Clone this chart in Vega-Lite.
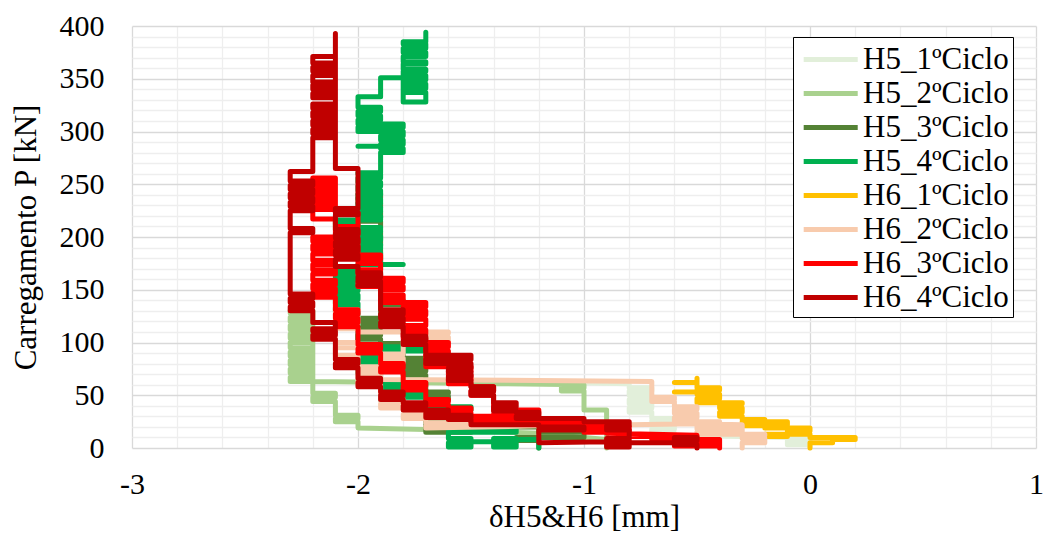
{
  "$schema": "https://vega.github.io/schema/vega-lite/v6.json",
  "width": 904,
  "height": 422,
  "autosize": {"type": "none"},
  "padding": {"left": 132, "top": 26, "right": 9, "bottom": 86},
  "background": "white",
  "config": {
    "view": {"stroke": null},
    "font": "Liberation Serif",
    "line": {"strokeWidth": 5, "strokeCap": "round", "strokeJoin": "round"},
    "axis": {
      "domain": false, "ticks": false, "tickSize": 0,
      "labelFont": "Liberation Serif", "labelFontSize": 30, "labelColor": "#000",
      "titleFont": "Liberation Serif", "titleFontSize": 31, "titleFontWeight": "normal", "titleColor": "#000",
      "gridWidth": 1.3, "labelOverlap": false, "labelFlush": false
    }
  },
  "datasets": {
    "h51": [{"x":0,"y":0},{"x":0,"y":3},{"x":-0.1,"y":3},{"x":-0.1,"y":7},{"x":0,"y":7},{"x":0,"y":10},{"x":-0.1,"y":10},{"x":-0.6,"y":12},{"x":-0.6,"y":14},{"x":-0.7,"y":14},{"x":-0.7,"y":18},{"x":-0.6,"y":18},{"x":-0.6,"y":22},{"x":-0.7,"y":22},{"x":-0.7,"y":26},{"x":-0.6,"y":26},{"x":-0.6,"y":28},{"x":-0.7,"y":28},{"x":-0.7,"y":34},{"x":-0.8,"y":34},{"x":-0.8,"y":38},{"x":-0.7,"y":38},{"x":-0.7,"y":42},{"x":-0.8,"y":42},{"x":-0.8,"y":46},{"x":-0.7,"y":46},{"x":-0.7,"y":50},{"x":-0.8,"y":50},{"x":-0.8,"y":54},{"x":-0.7,"y":54},{"x":-0.7,"y":57},{"x":-0.8,"y":57},{"x":-0.8,"y":61},{"x":-1.1,"y":62}],
    "h52": [{"x":-0.9,"y":0},{"x":-0.9,"y":36},{"x":-1.0,"y":36},{"x":-1.0,"y":54},{"x":-1.1,"y":54},{"x":-1.1,"y":57},{"x":-1.0,"y":57},{"x":-1.0,"y":60},{"x":-1.4,"y":61},{"x":-1.8,"y":62},{"x":-2.2,"y":63},{"x":-2.3,"y":63},{"x":-2.3,"y":67},{"x":-2.2,"y":67},{"x":-2.2,"y":71},{"x":-2.3,"y":71},{"x":-2.3,"y":75},{"x":-2.2,"y":75},{"x":-2.2,"y":79},{"x":-2.3,"y":79},{"x":-2.3,"y":83},{"x":-2.2,"y":83},{"x":-2.2,"y":87},{"x":-2.3,"y":87},{"x":-2.3,"y":91},{"x":-2.2,"y":91},{"x":-2.2,"y":95},{"x":-2.3,"y":95},{"x":-2.3,"y":100},{"x":-2.2,"y":100},{"x":-2.2,"y":104},{"x":-2.3,"y":104},{"x":-2.3,"y":108},{"x":-2.2,"y":108},{"x":-2.2,"y":112},{"x":-2.3,"y":112},{"x":-2.3,"y":116},{"x":-2.2,"y":116},{"x":-2.2,"y":120},{"x":-2.3,"y":120},{"x":-2.3,"y":124},{"x":-2.2,"y":124},{"x":-2.2,"y":128},{"x":-2.3,"y":128},{"x":-2.3,"y":130},{"x":-2.2,"y":130},{"x":-2.2,"y":52},{"x":-2.1,"y":52},{"x":-2.1,"y":48},{"x":-2.2,"y":48},{"x":-2.2,"y":44},{"x":-2.1,"y":44},{"x":-2.1,"y":31},{"x":-2.0,"y":31},{"x":-2.0,"y":28},{"x":-2.1,"y":28},{"x":-2.1,"y":25},{"x":-2.0,"y":25},{"x":-2.0,"y":19},{"x":-1.6,"y":17},{"x":-1.2,"y":14},{"x":-1.0,"y":10},{"x":-0.9,"y":8}],
    "h53": [{"x":-1.2,"y":0},{"x":-1.2,"y":7},{"x":-1.3,"y":7},{"x":-1.3,"y":10},{"x":-1.0,"y":10},{"x":-1.0,"y":15},{"x":-1.2,"y":15},{"x":-1.2,"y":20},{"x":-1.7,"y":20},{"x":-1.7,"y":15},{"x":-1.5,"y":15},{"x":-1.5,"y":18},{"x":-1.7,"y":18},{"x":-1.7,"y":22},{"x":-1.5,"y":22},{"x":-1.5,"y":24},{"x":-1.7,"y":24},{"x":-1.7,"y":46},{"x":-1.6,"y":46},{"x":-1.6,"y":49},{"x":-1.7,"y":49},{"x":-1.7,"y":52},{"x":-1.6,"y":52},{"x":-1.6,"y":53},{"x":-1.7,"y":53},{"x":-1.7,"y":69},{"x":-1.8,"y":69},{"x":-1.8,"y":73},{"x":-1.7,"y":73},{"x":-1.7,"y":77},{"x":-1.8,"y":77},{"x":-1.8,"y":81},{"x":-1.7,"y":81},{"x":-1.7,"y":85},{"x":-1.8,"y":85},{"x":-1.8,"y":91},{"x":-1.9,"y":91},{"x":-1.9,"y":95},{"x":-1.8,"y":95},{"x":-1.8,"y":99},{"x":-1.9,"y":99},{"x":-1.9,"y":103},{"x":-2.0,"y":103},{"x":-2.0,"y":107},{"x":-1.9,"y":107},{"x":-1.9,"y":111},{"x":-2.0,"y":111},{"x":-2.0,"y":115},{"x":-1.9,"y":115},{"x":-1.9,"y":119},{"x":-2.0,"y":119},{"x":-2.0,"y":123},{"x":-1.9,"y":123},{"x":-1.9,"y":136},{"x":-1.8,"y":136},{"x":-1.8,"y":140},{"x":-1.9,"y":140},{"x":-1.9,"y":188},{"x":-2.0,"y":188},{"x":-2.0,"y":192},{"x":-1.9,"y":192},{"x":-1.9,"y":205},{"x":-2.0,"y":205},{"x":-2.0,"y":209},{"x":-1.9,"y":209},{"x":-1.9,"y":215},{"x":-2.0,"y":215},{"x":-2.0,"y":218},{"x":-1.9,"y":218},{"x":-1.9,"y":224},{"x":-2.0,"y":224},{"x":-2.0,"y":228},{"x":-1.9,"y":228},{"x":-1.9,"y":232},{"x":-2.0,"y":232},{"x":-2.0,"y":237},{"x":-1.9,"y":237},{"x":-1.9,"y":241},{"x":-2.0,"y":241}],
    "h54": [{"x":-1.2,"y":0},{"x":-1.2,"y":8},{"x":-1.3,"y":8},{"x":-1.3,"y":1},{"x":-1.4,"y":1},{"x":-1.4,"y":5},{"x":-1.3,"y":5},{"x":-1.3,"y":9},{"x":-1.4,"y":9},{"x":-1.4,"y":6},{"x":-1.5,"y":6},{"x":-1.5,"y":1},{"x":-1.6,"y":1},{"x":-1.6,"y":5},{"x":-1.5,"y":5},{"x":-1.5,"y":9},{"x":-1.6,"y":9},{"x":-1.6,"y":15},{"x":-1.3,"y":15},{"x":-1.3,"y":18},{"x":-1.6,"y":18},{"x":-1.6,"y":36},{"x":-1.5,"y":36},{"x":-1.5,"y":39},{"x":-1.7,"y":39},{"x":-1.7,"y":48},{"x":-1.8,"y":48},{"x":-1.8,"y":52},{"x":-1.7,"y":52},{"x":-1.7,"y":54},{"x":-1.8,"y":54},{"x":-1.8,"y":46},{"x":-1.9,"y":46},{"x":-1.9,"y":50},{"x":-1.8,"y":50},{"x":-1.8,"y":55},{"x":-1.9,"y":55},{"x":-1.9,"y":59},{"x":-1.8,"y":59},{"x":-1.8,"y":63},{"x":-1.9,"y":63},{"x":-1.9,"y":71},{"x":-2.0,"y":71},{"x":-2.0,"y":75},{"x":-1.9,"y":75},{"x":-1.9,"y":79},{"x":-2.0,"y":79},{"x":-2.0,"y":83},{"x":-1.9,"y":83},{"x":-1.9,"y":87},{"x":-2.0,"y":87},{"x":-2.0,"y":90},{"x":-1.9,"y":90},{"x":-1.9,"y":92},{"x":-1.7,"y":92},{"x":-1.7,"y":96},{"x":-2.0,"y":96},{"x":-2.0,"y":129},{"x":-2.1,"y":129},{"x":-2.1,"y":133},{"x":-2.0,"y":133},{"x":-2.0,"y":137},{"x":-2.1,"y":137},{"x":-2.1,"y":141},{"x":-2.0,"y":141},{"x":-2.0,"y":145},{"x":-2.1,"y":145},{"x":-2.1,"y":149},{"x":-2.0,"y":149},{"x":-2.0,"y":153},{"x":-2.1,"y":153},{"x":-2.1,"y":157},{"x":-2.0,"y":157},{"x":-2.0,"y":161},{"x":-2.1,"y":161},{"x":-2.1,"y":165},{"x":-2.0,"y":165},{"x":-2.0,"y":169},{"x":-2.1,"y":169},{"x":-2.1,"y":172},{"x":-2.0,"y":172},{"x":-2.0,"y":174},{"x":-1.8,"y":174},{"x":-1.9,"y":174},{"x":-1.9,"y":185},{"x":-2.0,"y":185},{"x":-2.0,"y":189},{"x":-1.9,"y":189},{"x":-1.9,"y":193},{"x":-2.0,"y":193},{"x":-2.0,"y":197},{"x":-1.9,"y":197},{"x":-1.9,"y":201},{"x":-2.0,"y":201},{"x":-2.0,"y":205},{"x":-1.9,"y":205},{"x":-1.9,"y":209},{"x":-2.0,"y":209},{"x":-2.0,"y":212},{"x":-2.1,"y":212},{"x":-2.1,"y":216},{"x":-1.9,"y":216},{"x":-1.9,"y":220},{"x":-2.0,"y":220},{"x":-2.0,"y":224},{"x":-1.9,"y":224},{"x":-1.9,"y":228},{"x":-2.0,"y":228},{"x":-2.0,"y":232},{"x":-1.9,"y":232},{"x":-1.9,"y":236},{"x":-2.0,"y":236},{"x":-2.0,"y":240},{"x":-1.9,"y":240},{"x":-1.9,"y":244},{"x":-2.0,"y":244},{"x":-2.0,"y":248},{"x":-1.9,"y":248},{"x":-1.9,"y":252},{"x":-2.0,"y":252},{"x":-2.0,"y":256},{"x":-1.9,"y":256},{"x":-1.9,"y":260},{"x":-2.0,"y":260},{"x":-2.0,"y":261},{"x":-1.9,"y":261},{"x":-1.9,"y":280},{"x":-1.8,"y":280},{"x":-1.8,"y":284},{"x":-1.9,"y":284},{"x":-1.9,"y":286},{"x":-2.0,"y":286},{"x":-1.9,"y":286},{"x":-1.9,"y":288},{"x":-1.8,"y":288},{"x":-1.8,"y":292},{"x":-1.9,"y":292},{"x":-1.9,"y":296},{"x":-1.8,"y":296},{"x":-1.8,"y":300},{"x":-2.0,"y":300},{"x":-2.0,"y":304},{"x":-1.8,"y":304},{"x":-1.8,"y":307},{"x":-2.0,"y":307},{"x":-2.0,"y":311},{"x":-1.9,"y":311},{"x":-1.9,"y":315},{"x":-2.0,"y":315},{"x":-2.0,"y":319},{"x":-1.9,"y":319},{"x":-1.9,"y":323},{"x":-2.0,"y":323},{"x":-2.0,"y":333},{"x":-1.9,"y":333},{"x":-1.9,"y":351},{"x":-1.8,"y":351},{"x":-1.8,"y":328},{"x":-1.7,"y":328},{"x":-1.7,"y":337},{"x":-1.8,"y":337},{"x":-1.8,"y":341},{"x":-1.7,"y":341},{"x":-1.7,"y":345},{"x":-1.8,"y":345},{"x":-1.8,"y":349},{"x":-1.7,"y":349},{"x":-1.7,"y":353},{"x":-1.8,"y":353},{"x":-1.8,"y":357},{"x":-1.7,"y":357},{"x":-1.7,"y":359},{"x":-1.8,"y":359},{"x":-1.8,"y":364},{"x":-1.7,"y":364},{"x":-1.7,"y":366},{"x":-1.8,"y":366},{"x":-1.8,"y":371},{"x":-1.7,"y":371},{"x":-1.7,"y":375},{"x":-1.8,"y":375},{"x":-1.8,"y":379},{"x":-1.7,"y":379},{"x":-1.7,"y":383},{"x":-1.8,"y":383},{"x":-1.8,"y":385},{"x":-1.7,"y":385},{"x":-1.7,"y":394}],
    "h61": [{"x":0,"y":0},{"x":0,"y":5},{"x":0.1,"y":5},{"x":0.1,"y":8},{"x":0.2,"y":8},{"x":0.2,"y":10},{"x":0,"y":10},{"x":0,"y":13},{"x":-0.2,"y":13},{"x":-0.2,"y":11},{"x":-0.1,"y":11},{"x":-0.1,"y":16},{"x":0,"y":16},{"x":0,"y":19},{"x":-0.2,"y":19},{"x":-0.2,"y":22},{"x":-0.1,"y":22},{"x":-0.1,"y":25},{"x":-0.3,"y":25},{"x":-0.3,"y":21},{"x":-0.2,"y":21},{"x":-0.2,"y":27},{"x":-0.3,"y":27},{"x":-0.3,"y":30},{"x":-0.4,"y":30},{"x":-0.4,"y":34},{"x":-0.3,"y":34},{"x":-0.3,"y":38},{"x":-0.4,"y":38},{"x":-0.4,"y":42},{"x":-0.3,"y":42},{"x":-0.3,"y":43},{"x":-0.5,"y":43},{"x":-0.5,"y":47},{"x":-0.4,"y":47},{"x":-0.4,"y":51},{"x":-0.5,"y":51},{"x":-0.5,"y":53},{"x":-0.6,"y":53},{"x":-0.5,"y":53},{"x":-0.5,"y":55},{"x":-0.4,"y":55},{"x":-0.4,"y":57},{"x":-0.5,"y":57},{"x":-0.5,"y":62},{"x":-0.6,"y":62},{"x":-0.5,"y":62},{"x":-0.5,"y":66}],
    "h62": [{"x":-0.3,"y":0},{"x":-0.3,"y":5},{"x":-0.2,"y":5},{"x":-0.2,"y":9},{"x":-0.3,"y":9},{"x":-0.3,"y":12},{"x":-0.2,"y":12},{"x":-0.2,"y":13},{"x":-0.5,"y":13},{"x":-0.5,"y":16},{"x":-0.3,"y":16},{"x":-0.3,"y":18},{"x":-0.5,"y":18},{"x":-0.5,"y":22},{"x":-0.4,"y":22},{"x":-0.4,"y":25},{"x":-0.6,"y":25},{"x":-0.6,"y":29},{"x":-0.5,"y":29},{"x":-0.5,"y":33},{"x":-0.6,"y":33},{"x":-0.6,"y":37},{"x":-0.5,"y":37},{"x":-0.5,"y":39},{"x":-0.6,"y":39},{"x":-0.6,"y":44},{"x":-0.7,"y":44},{"x":-0.7,"y":48},{"x":-0.6,"y":48},{"x":-0.6,"y":46},{"x":-0.7,"y":46},{"x":-0.7,"y":63},{"x":-1.2,"y":64},{"x":-1.9,"y":65},{"x":-1.9,"y":81},{"x":-1.8,"y":81},{"x":-1.8,"y":85},{"x":-1.9,"y":85},{"x":-1.9,"y":89},{"x":-1.8,"y":89},{"x":-1.8,"y":101},{"x":-1.6,"y":101},{"x":-1.6,"y":105},{"x":-1.7,"y":105},{"x":-1.7,"y":109},{"x":-1.6,"y":109},{"x":-1.6,"y":110},{"x":-2.0,"y":110},{"x":-2.0,"y":113},{"x":-2.1,"y":113},{"x":-2.1,"y":117},{"x":-2.0,"y":117},{"x":-2.0,"y":126},{"x":-2.1,"y":126},{"x":-2.1,"y":129},{"x":-2.0,"y":129},{"x":-2.0,"y":131},{"x":-2.1,"y":131},{"x":-2.1,"y":100},{"x":-2.0,"y":100},{"x":-2.0,"y":95},{"x":-2.1,"y":95},{"x":-2.1,"y":88},{"x":-2.0,"y":88},{"x":-2.0,"y":77},{"x":-1.9,"y":77},{"x":-1.9,"y":73},{"x":-2.0,"y":73},{"x":-2.0,"y":69},{"x":-1.9,"y":69},{"x":-1.9,"y":66},{"x":-2.0,"y":66},{"x":-2.0,"y":60},{"x":-1.9,"y":60},{"x":-1.9,"y":46},{"x":-1.8,"y":46},{"x":-1.8,"y":42},{"x":-1.9,"y":42},{"x":-1.9,"y":38},{"x":-1.8,"y":38},{"x":-1.8,"y":36},{"x":-1.7,"y":36},{"x":-1.7,"y":32},{"x":-1.8,"y":32},{"x":-1.8,"y":28},{"x":-1.7,"y":28},{"x":-1.7,"y":24},{"x":-1.4,"y":24},{"x":-1.4,"y":21},{"x":-1.7,"y":21},{"x":-1.7,"y":19},{"x":-1.2,"y":21},{"x":-0.8,"y":22},{"x":-0.5,"y":23},{"x":-0.3,"y":22},{"x":-0.3,"y":14}],
    "h63": [{"x":-0.4,"y":0},{"x":-0.4,"y":2},{"x":-0.6,"y":2},{"x":-0.6,"y":5},{"x":-0.4,"y":5},{"x":-0.4,"y":8},{"x":-0.7,"y":8},{"x":-0.7,"y":11},{"x":-0.8,"y":11},{"x":-0.8,"y":15},{"x":-1.0,"y":15},{"x":-1.0,"y":18},{"x":-0.9,"y":18},{"x":-0.9,"y":22},{"x":-1.0,"y":22},{"x":-1.0,"y":25},{"x":-1.5,"y":25},{"x":-1.5,"y":28},{"x":-1.2,"y":28},{"x":-1.2,"y":30},{"x":-1.5,"y":30},{"x":-1.5,"y":33},{"x":-1.6,"y":33},{"x":-1.6,"y":36},{"x":-1.5,"y":36},{"x":-1.5,"y":38},{"x":-1.6,"y":38},{"x":-1.6,"y":41},{"x":-1.7,"y":41},{"x":-1.7,"y":44},{"x":-1.6,"y":44},{"x":-1.6,"y":46},{"x":-1.7,"y":46},{"x":-1.7,"y":55},{"x":-1.8,"y":55},{"x":-1.8,"y":59},{"x":-1.7,"y":59},{"x":-1.7,"y":62},{"x":-1.8,"y":62},{"x":-1.8,"y":72},{"x":-1.9,"y":72},{"x":-1.9,"y":76},{"x":-1.8,"y":76},{"x":-1.8,"y":80},{"x":-1.9,"y":80},{"x":-1.9,"y":90},{"x":-2.0,"y":90},{"x":-2.0,"y":94},{"x":-1.9,"y":94},{"x":-1.9,"y":98},{"x":-2.0,"y":98},{"x":-2.0,"y":115},{"x":-2.1,"y":115},{"x":-2.1,"y":119},{"x":-2.0,"y":119},{"x":-2.0,"y":123},{"x":-2.1,"y":123},{"x":-2.1,"y":127},{"x":-2.0,"y":127},{"x":-2.0,"y":131},{"x":-2.1,"y":131},{"x":-2.1,"y":143},{"x":-2.2,"y":143},{"x":-2.2,"y":147},{"x":-2.1,"y":147},{"x":-2.1,"y":151},{"x":-2.2,"y":151},{"x":-2.2,"y":155},{"x":-2.1,"y":155},{"x":-2.1,"y":159},{"x":-2.2,"y":159},{"x":-2.2,"y":165},{"x":-2.1,"y":165},{"x":-2.1,"y":169},{"x":-2.2,"y":169},{"x":-2.2,"y":174},{"x":-2.1,"y":174},{"x":-2.1,"y":178},{"x":-2.2,"y":178},{"x":-2.2,"y":184},{"x":-2.1,"y":184},{"x":-2.1,"y":188},{"x":-2.2,"y":188},{"x":-2.2,"y":192},{"x":-2.1,"y":192},{"x":-2.1,"y":196},{"x":-2.2,"y":196},{"x":-2.2,"y":200},{"x":-2.1,"y":200},{"x":-2.1,"y":217},{"x":-2.2,"y":217},{"x":-2.2,"y":226},{"x":-2.1,"y":226},{"x":-2.1,"y":230},{"x":-2.2,"y":230},{"x":-2.2,"y":234},{"x":-2.1,"y":234},{"x":-2.1,"y":238},{"x":-2.2,"y":238},{"x":-2.2,"y":242},{"x":-2.1,"y":242},{"x":-2.1,"y":246},{"x":-2.2,"y":246},{"x":-2.2,"y":250},{"x":-2.1,"y":250},{"x":-2.1,"y":254},{"x":-2.2,"y":254},{"x":-2.2,"y":256},{"x":-2.1,"y":256},{"x":-2.1,"y":223},{"x":-2.0,"y":223},{"x":-2.0,"y":210},{"x":-2.1,"y":210},{"x":-2.1,"y":206},{"x":-2.0,"y":206},{"x":-2.0,"y":202},{"x":-2.1,"y":202},{"x":-2.1,"y":198},{"x":-2.0,"y":198},{"x":-2.0,"y":183},{"x":-1.9,"y":183},{"x":-1.9,"y":179},{"x":-2.0,"y":179},{"x":-2.0,"y":175},{"x":-1.9,"y":175},{"x":-1.9,"y":169},{"x":-2.0,"y":169},{"x":-2.0,"y":165},{"x":-1.9,"y":165},{"x":-1.9,"y":161},{"x":-1.8,"y":161},{"x":-1.8,"y":157},{"x":-2.0,"y":157},{"x":-2.0,"y":153},{"x":-1.8,"y":153},{"x":-1.8,"y":150},{"x":-1.9,"y":150},{"x":-1.9,"y":145},{"x":-1.8,"y":145},{"x":-1.8,"y":141},{"x":-1.9,"y":141},{"x":-1.9,"y":138},{"x":-1.7,"y":138},{"x":-1.7,"y":134},{"x":-1.8,"y":134},{"x":-1.8,"y":130},{"x":-1.7,"y":130},{"x":-1.7,"y":126},{"x":-1.8,"y":126},{"x":-1.8,"y":122},{"x":-1.7,"y":122},{"x":-1.7,"y":116},{"x":-1.8,"y":116},{"x":-1.8,"y":112},{"x":-1.7,"y":112},{"x":-1.7,"y":108},{"x":-1.8,"y":108},{"x":-1.8,"y":104},{"x":-1.7,"y":104},{"x":-1.7,"y":100},{"x":-1.6,"y":100},{"x":-1.6,"y":96},{"x":-1.7,"y":96},{"x":-1.7,"y":92},{"x":-1.6,"y":92},{"x":-1.6,"y":88},{"x":-1.7,"y":88},{"x":-1.7,"y":84},{"x":-1.6,"y":84},{"x":-1.6,"y":80},{"x":-1.7,"y":80},{"x":-1.7,"y":77},{"x":-1.5,"y":77},{"x":-1.5,"y":73},{"x":-1.6,"y":73},{"x":-1.6,"y":69},{"x":-1.5,"y":69},{"x":-1.5,"y":65},{"x":-1.6,"y":65},{"x":-1.6,"y":61},{"x":-1.5,"y":61},{"x":-1.5,"y":58},{"x":-1.4,"y":58},{"x":-1.4,"y":54},{"x":-1.5,"y":54},{"x":-1.5,"y":50},{"x":-1.4,"y":50},{"x":-1.4,"y":36},{"x":-1.2,"y":36},{"x":-1.2,"y":32},{"x":-1.4,"y":32},{"x":-1.4,"y":31},{"x":-1.3,"y":31},{"x":-1.3,"y":28},{"x":-1.2,"y":28},{"x":-1.2,"y":24},{"x":-0.9,"y":24},{"x":-0.9,"y":20},{"x":-0.8,"y":20},{"x":-0.8,"y":16},{"x":-0.9,"y":16},{"x":-0.9,"y":14},{"x":-0.5,"y":12},{"x":-0.5,"y":8},{"x":-0.4,"y":8},{"x":-0.4,"y":0}],
    "h64": [{"x":-0.5,"y":0},{"x":-0.5,"y":3},{"x":-0.6,"y":3},{"x":-0.6,"y":7},{"x":-0.5,"y":7},{"x":-0.5,"y":10},{"x":-0.6,"y":10},{"x":-0.6,"y":5},{"x":-0.8,"y":5},{"x":-0.8,"y":1},{"x":-0.9,"y":1},{"x":-0.9,"y":5},{"x":-0.8,"y":5},{"x":-0.8,"y":9},{"x":-0.9,"y":9},{"x":-0.9,"y":6},{"x":-1.2,"y":5},{"x":-1.2,"y":17},{"x":-1.0,"y":17},{"x":-1.0,"y":20},{"x":-1.2,"y":20},{"x":-1.2,"y":22},{"x":-1.5,"y":22},{"x":-1.5,"y":27},{"x":-1.6,"y":27},{"x":-1.6,"y":31},{"x":-1.5,"y":31},{"x":-1.5,"y":29},{"x":-1.7,"y":29},{"x":-1.7,"y":33},{"x":-1.6,"y":33},{"x":-1.6,"y":36},{"x":-1.8,"y":36},{"x":-1.8,"y":40},{"x":-1.7,"y":40},{"x":-1.7,"y":43},{"x":-1.8,"y":43},{"x":-1.8,"y":46},{"x":-1.9,"y":46},{"x":-1.9,"y":50},{"x":-1.8,"y":50},{"x":-1.8,"y":53},{"x":-1.9,"y":53},{"x":-1.9,"y":58},{"x":-2.0,"y":58},{"x":-2.0,"y":62},{"x":-1.9,"y":62},{"x":-1.9,"y":66},{"x":-2.0,"y":66},{"x":-2.0,"y":76},{"x":-2.1,"y":76},{"x":-2.1,"y":80},{"x":-2.0,"y":80},{"x":-2.0,"y":84},{"x":-2.1,"y":84},{"x":-2.1,"y":103},{"x":-2.2,"y":103},{"x":-2.2,"y":107},{"x":-2.1,"y":107},{"x":-2.1,"y":111},{"x":-2.2,"y":111},{"x":-2.2,"y":113},{"x":-2.1,"y":113},{"x":-2.1,"y":119},{"x":-2.2,"y":119},{"x":-2.2,"y":130},{"x":-2.3,"y":130},{"x":-2.3,"y":134},{"x":-2.2,"y":134},{"x":-2.2,"y":138},{"x":-2.3,"y":138},{"x":-2.3,"y":142},{"x":-2.2,"y":142},{"x":-2.2,"y":146},{"x":-2.3,"y":146},{"x":-2.3,"y":204},{"x":-2.2,"y":204},{"x":-2.2,"y":208},{"x":-2.3,"y":208},{"x":-2.3,"y":225},{"x":-2.2,"y":225},{"x":-2.2,"y":229},{"x":-2.3,"y":229},{"x":-2.3,"y":233},{"x":-2.2,"y":233},{"x":-2.2,"y":237},{"x":-2.3,"y":237},{"x":-2.3,"y":241},{"x":-2.2,"y":241},{"x":-2.2,"y":245},{"x":-2.3,"y":245},{"x":-2.3,"y":249},{"x":-2.2,"y":249},{"x":-2.2,"y":253},{"x":-2.3,"y":253},{"x":-2.3,"y":262},{"x":-2.2,"y":262},{"x":-2.2,"y":294},{"x":-2.1,"y":294},{"x":-2.1,"y":298},{"x":-2.2,"y":298},{"x":-2.2,"y":302},{"x":-2.1,"y":302},{"x":-2.1,"y":306},{"x":-2.2,"y":306},{"x":-2.2,"y":310},{"x":-2.1,"y":310},{"x":-2.1,"y":314},{"x":-2.2,"y":314},{"x":-2.2,"y":318},{"x":-2.1,"y":318},{"x":-2.1,"y":322},{"x":-2.2,"y":322},{"x":-2.2,"y":326},{"x":-2.1,"y":326},{"x":-2.1,"y":332},{"x":-2.2,"y":332},{"x":-2.2,"y":336},{"x":-2.1,"y":336},{"x":-2.1,"y":340},{"x":-2.2,"y":340},{"x":-2.2,"y":344},{"x":-2.1,"y":344},{"x":-2.1,"y":347},{"x":-2.2,"y":347},{"x":-2.2,"y":353},{"x":-2.1,"y":353},{"x":-2.1,"y":357},{"x":-2.2,"y":357},{"x":-2.2,"y":361},{"x":-2.1,"y":361},{"x":-2.1,"y":365},{"x":-2.2,"y":365},{"x":-2.2,"y":371},{"x":-2.1,"y":371},{"x":-2.1,"y":393},{"x":-2.1,"y":265},{"x":-2.0,"y":265},{"x":-2.0,"y":227},{"x":-2.1,"y":227},{"x":-2.1,"y":223},{"x":-2.0,"y":223},{"x":-2.0,"y":221},{"x":-2.1,"y":221},{"x":-2.1,"y":207},{"x":-2.0,"y":207},{"x":-2.0,"y":203},{"x":-2.1,"y":203},{"x":-2.1,"y":199},{"x":-2.0,"y":199},{"x":-2.0,"y":195},{"x":-2.1,"y":195},{"x":-2.1,"y":191},{"x":-2.0,"y":191},{"x":-2.0,"y":187},{"x":-2.1,"y":187},{"x":-2.1,"y":183},{"x":-2.0,"y":183},{"x":-2.0,"y":179},{"x":-2.1,"y":179},{"x":-2.1,"y":175},{"x":-2.1,"y":172},{"x":-2.0,"y":172},{"x":-2.0,"y":166},{"x":-1.9,"y":166},{"x":-1.9,"y":162},{"x":-2.0,"y":162},{"x":-2.0,"y":158},{"x":-1.9,"y":158},{"x":-1.9,"y":154},{"x":-2.0,"y":154},{"x":-1.9,"y":154},{"x":-1.9,"y":131},{"x":-1.8,"y":131},{"x":-1.8,"y":127},{"x":-1.9,"y":127},{"x":-1.9,"y":123},{"x":-1.8,"y":123},{"x":-1.8,"y":119},{"x":-1.9,"y":119},{"x":-1.9,"y":115},{"x":-1.8,"y":115},{"x":-1.8,"y":106},{"x":-1.7,"y":106},{"x":-1.7,"y":102},{"x":-1.8,"y":102},{"x":-1.8,"y":98},{"x":-1.7,"y":98},{"x":-1.7,"y":88},{"x":-1.5,"y":88},{"x":-1.5,"y":84},{"x":-1.7,"y":84},{"x":-1.7,"y":80},{"x":-1.5,"y":80},{"x":-1.5,"y":76},{"x":-1.6,"y":76},{"x":-1.6,"y":72},{"x":-1.5,"y":72},{"x":-1.5,"y":68},{"x":-1.6,"y":68},{"x":-1.6,"y":64},{"x":-1.5,"y":64},{"x":-1.5,"y":58},{"x":-1.4,"y":58},{"x":-1.4,"y":54},{"x":-1.5,"y":54},{"x":-1.5,"y":50},{"x":-1.4,"y":50},{"x":-1.4,"y":43},{"x":-1.3,"y":43},{"x":-1.3,"y":39},{"x":-1.4,"y":39},{"x":-1.4,"y":35},{"x":-1.3,"y":35},{"x":-1.3,"y":34},{"x":-1.2,"y":34},{"x":-1.2,"y":30},{"x":-1.3,"y":30},{"x":-1.3,"y":28},{"x":-1.0,"y":28},{"x":-1.0,"y":25},{"x":-0.8,"y":25},{"x":-0.8,"y":21},{"x":-0.9,"y":21},{"x":-0.9,"y":17},{"x":-0.8,"y":17},{"x":-0.8,"y":10}]
  },
  "layer": [
    {
      "data": {"name": "h51"},
      "mark": {"type": "point", "opacity": 0},
      "encoding": {
        "x": {
          "field": "x", "type": "quantitative",
          "scale": {"domain": [-3, 1], "nice": false, "zero": false},
          "axis": {
            "orient": "top", "title": null, "labels": false, "grid": true, "gridColor": "#EEEEEE",
            "values": [-2.8, -2.6, -2.4, -2.2, -1.8, -1.6, -1.4, -1.2, -0.8, -0.6, -0.4, -0.2, 0.2, 0.4, 0.6, 0.8]
          }
        },
        "y": {
          "field": "y", "type": "quantitative",
          "scale": {"domain": [0, 400], "nice": false},
          "axis": {
            "orient": "right", "title": null, "labels": false, "grid": true, "gridColor": "#EEEEEE",
            "values": [10, 20, 30, 40, 60, 70, 80, 90, 110, 120, 130, 140, 160, 170, 180, 190, 210, 220, 230, 240, 260, 270, 280, 290, 310, 320, 330, 340, 360, 370, 380, 390]
          }
        }
      }
    },
    {
      "layer": [
        {
          "data": {"name": "h51"},
          "transform": [{"window": [{"op": "row_number", "as": "i"}]}],
          "mark": "line",
          "encoding": {
            "x": {
              "field": "x", "type": "quantitative",
              "axis": {
                "orient": "bottom", "title": "δH5&H6 [mm]", "grid": true, "gridColor": "#D9D9D9",
                "values": [-3, -2, -1, 0, 1],
                "labelExpr": "'' + datum.value",
                "labelPadding": 21,
                "titlePadding": 3
              }
            },
            "y": {
              "field": "y", "type": "quantitative",
              "axis": {
                "orient": "left", "title": "Carregamento P [kN]", "grid": true, "gridColor": "#D9D9D9",
                "values": [0, 50, 100, 150, 200, 250, 300, 350, 400],
                "labelPadding": 28,
                "titlePadding": 17
              }
            },
            "color": {
              "datum": "H5_1ºCiclo",
              "type": "nominal",
              "scale": {
                "domain": ["H5_1ºCiclo", "H5_2ºCiclo", "H5_3ºCiclo", "H5_4ºCiclo", "H6_1ºCiclo", "H6_2ºCiclo", "H6_3ºCiclo", "H6_4ºCiclo"],
                "range": ["#E2EFDA", "#A9D18E", "#548235", "#00B050", "#FFC000", "#F8CBAD", "#FF0000", "#C00000"]
              },
              "legend": {
                "orient": "none", "legendX": 661, "legendY": 11, "title": null,
                "symbolType": "M-0.747,0H2.67", "symbolSize": 1000, "symbolStrokeWidth": 4,
                "labelFont": "Liberation Serif", "labelFontSize": 31, "labelColor": "#000",
                "labelOffset": 29, "rowPadding": -1, "padding": 4, "labelLimit": 400,
                "strokeColor": "#000", "fillColor": "#FFFFFF"
              }
            },
            "order": {"field": "i", "type": "quantitative"}
          }
        },
        {"data": {"name": "h52"}, "transform": [{"window": [{"op": "row_number", "as": "i"}]}], "mark": "line",
         "encoding": {"x": {"field": "x", "type": "quantitative"}, "y": {"field": "y", "type": "quantitative"}, "color": {"datum": "H5_2ºCiclo", "type": "nominal"}, "order": {"field": "i", "type": "quantitative"}}},
        {"data": {"name": "h53"}, "transform": [{"window": [{"op": "row_number", "as": "i"}]}], "mark": "line",
         "encoding": {"x": {"field": "x", "type": "quantitative"}, "y": {"field": "y", "type": "quantitative"}, "color": {"datum": "H5_3ºCiclo", "type": "nominal"}, "order": {"field": "i", "type": "quantitative"}}},
        {"data": {"name": "h54"}, "transform": [{"window": [{"op": "row_number", "as": "i"}]}], "mark": "line",
         "encoding": {"x": {"field": "x", "type": "quantitative"}, "y": {"field": "y", "type": "quantitative"}, "color": {"datum": "H5_4ºCiclo", "type": "nominal"}, "order": {"field": "i", "type": "quantitative"}}},
        {"data": {"name": "h61"}, "transform": [{"window": [{"op": "row_number", "as": "i"}]}], "mark": "line",
         "encoding": {"x": {"field": "x", "type": "quantitative"}, "y": {"field": "y", "type": "quantitative"}, "color": {"datum": "H6_1ºCiclo", "type": "nominal"}, "order": {"field": "i", "type": "quantitative"}}},
        {"data": {"name": "h62"}, "transform": [{"window": [{"op": "row_number", "as": "i"}]}], "mark": "line",
         "encoding": {"x": {"field": "x", "type": "quantitative"}, "y": {"field": "y", "type": "quantitative"}, "color": {"datum": "H6_2ºCiclo", "type": "nominal"}, "order": {"field": "i", "type": "quantitative"}}},
        {"data": {"name": "h63"}, "transform": [{"window": [{"op": "row_number", "as": "i"}]}], "mark": "line",
         "encoding": {"x": {"field": "x", "type": "quantitative"}, "y": {"field": "y", "type": "quantitative"}, "color": {"datum": "H6_3ºCiclo", "type": "nominal"}, "order": {"field": "i", "type": "quantitative"}}},
        {"data": {"name": "h64"}, "transform": [{"window": [{"op": "row_number", "as": "i"}]}], "mark": "line",
         "encoding": {"x": {"field": "x", "type": "quantitative"}, "y": {"field": "y", "type": "quantitative"}, "color": {"datum": "H6_4ºCiclo", "type": "nominal"}, "order": {"field": "i", "type": "quantitative"}}}
      ]
    }
  ],
  "resolve": {"axis": {"x": "independent", "y": "independent"}}
}
